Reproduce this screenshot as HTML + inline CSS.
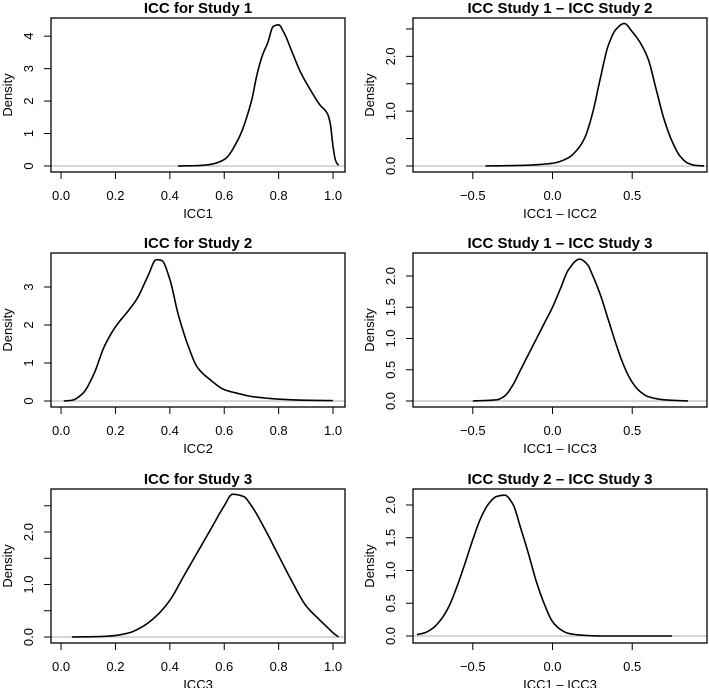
<!DOCTYPE html>
<html><head><meta charset="utf-8"><style>
html,body{margin:0;padding:0;background:#fff}
svg{display:block;font-family:"Liberation Sans",Arial,sans-serif}
</style></head><body>
<svg id="chart" width="709" height="688" viewBox="0 0 709 688" xmlns="http://www.w3.org/2000/svg"></svg>
<script>
// Data arrays
const p1x=[0.43,0.5,0.55,0.6,0.65,0.7,0.72,0.74,0.76,0.78,0.8,0.82,0.85,0.88,0.92,0.95,0.98,0.99,1.0,1.01,1.02];
const p1y=[0,0.01,0.05,0.2,0.8,2.0,2.8,3.4,3.8,4.3,4.35,4.1,3.5,2.9,2.3,1.9,1.6,1.3,0.6,0.15,0.02];
const p2x=[-0.42,-0.2,0,0.1,0.15,0.2,0.25,0.3,0.35,0.4,0.45,0.5,0.55,0.6,0.65,0.7,0.75,0.8,0.85,0.9,0.95];
const p2y=[0,0.01,0.05,0.15,0.28,0.5,0.95,1.6,2.2,2.5,2.6,2.45,2.25,1.95,1.4,0.85,0.45,0.18,0.05,0.01,0];
const p3x=[0.01,0.04,0.08,0.12,0.16,0.2,0.25,0.28,0.32,0.35,0.37,0.4,0.43,0.47,0.5,0.55,0.6,0.65,0.7,0.8,0.9,1.0];
const p3y=[0,0.02,0.2,0.7,1.45,1.95,2.4,2.7,3.3,3.72,3.7,3.2,2.3,1.4,0.9,0.55,0.3,0.2,0.12,0.05,0.02,0.01];
const p4x=[-0.5,-0.35,-0.3,-0.25,-0.2,-0.15,-0.1,-0.05,0,0.05,0.1,0.17,0.22,0.25,0.3,0.35,0.4,0.45,0.5,0.55,0.6,0.7,0.85];
const p4y=[0,0.02,0.08,0.25,0.5,0.75,1.0,1.25,1.5,1.8,2.1,2.27,2.18,2.02,1.7,1.3,0.9,0.55,0.3,0.15,0.07,0.02,0];
const p5x=[0.04,0.15,0.2,0.25,0.3,0.35,0.4,0.45,0.5,0.55,0.6,0.63,0.67,0.7,0.75,0.8,0.85,0.9,0.95,0.98,1.0,1.02];
const p5y=[0,0.01,0.03,0.08,0.2,0.4,0.7,1.15,1.6,2.05,2.5,2.72,2.68,2.5,2.05,1.55,1.05,0.6,0.33,0.18,0.08,0];
const p6x=[-0.85,-0.8,-0.75,-0.7,-0.65,-0.6,-0.55,-0.5,-0.45,-0.4,-0.35,-0.3,-0.25,-0.2,-0.15,-0.1,-0.05,0,0.05,0.1,0.2,0.3,0.75];
const p6y=[0.02,0.05,0.12,0.25,0.45,0.75,1.1,1.47,1.8,2.02,2.13,2.15,2.02,1.65,1.25,0.82,0.48,0.22,0.1,0.04,0.01,0,0];
const xTicksA=[0,0.2,0.4,0.6,0.8,1.0];
const xLabelsA=["0.0","0.2","0.4","0.6","0.8","1.0"];
const xTicksB=[-0.5,0,0.5];
const xLabelsB=["\u22120.5","0.0","0.5"];

const panels=[
 {name:"icc-study-1",title:"ICC for Study 1",xlab:"ICC1",L:51,T:18,xl:[-0.037,1.044],yl:[-0.186,4.56],xs:p1x,ys:p1y,xt:xTicksA,xtl:xLabelsA,yt:[0,1,2,3,4],ytl:["0","1","2","3","4"]},
 {name:"icc1-minus-icc2",title:"ICC Study 1 \u2013 ICC Study 2",xlab:"ICC1 \u2013 ICC2",L:413,T:18,xl:[-0.875,0.969],yl:[-0.11,2.70],xs:p2x,ys:p2y,xt:xTicksB,xtl:xLabelsB,yt:[0,0.5,1,1.5,2,2.5],ytl:["0.0","","1.0","","2.0",""]},
 {name:"icc-study-2",title:"ICC for Study 2",xlab:"ICC2",L:51,T:253,xl:[-0.037,1.044],yl:[-0.158,3.895],xs:p3x,ys:p3y,xt:xTicksA,xtl:xLabelsA,yt:[0,1,2,3],ytl:["0","1","2","3"]},
 {name:"icc1-minus-icc3",title:"ICC Study 1 \u2013 ICC Study 3",xlab:"ICC1 \u2013 ICC3",L:413,T:253,xl:[-0.875,0.969],yl:[-0.096,2.368],xs:p4x,ys:p4y,xt:xTicksB,xtl:xLabelsB,yt:[0,0.5,1,1.5,2],ytl:["0.0","0.5","1.0","1.5","2.0"]},
 {name:"icc-study-3",title:"ICC for Study 3",xlab:"ICC3",L:51,T:489,xl:[-0.037,1.044],yl:[-0.114,2.82],xs:p5x,ys:p5y,xt:xTicksA,xtl:xLabelsA,yt:[0,0.5,1,1.5,2,2.5],ytl:["0.0","","1.0","","2.0",""]},
 {name:"icc2-minus-icc3",title:"ICC Study 2 \u2013 ICC Study 3",xlab:"ICC1 \u2013 ICC3",L:413,T:489,xl:[-0.875,0.969],yl:[-0.107,2.244],xs:p6x,ys:p6y,xt:xTicksB,xtl:xLabelsB,yt:[0,0.5,1,1.5,2],ytl:["0.0","0.5","1.0","1.5","2.0"]}
];
const W=294,H=154,NS="http://www.w3.org/2000/svg";
const svg=document.getElementById('chart');
function mk(tag,attrs,parent,text){const e=document.createElementNS(NS,tag);for(const k in attrs)e.setAttribute(k,attrs[k]);if(text!==undefined)e.textContent=text;parent.appendChild(e);return e;}
// monotone cubic (Fritsch-Carlson) interpolation
function monotone(xs,ys){
 const n=xs.length,d=[],m=[];
 for(let i=0;i<n-1;i++)d.push((ys[i+1]-ys[i])/(xs[i+1]-xs[i]));
 m[0]=d[0];m[n-1]=d[n-2];
 for(let i=1;i<n-1;i++){if(d[i-1]*d[i]<=0)m[i]=0;else{const w1=2*(xs[i+1]-xs[i])+(xs[i]-xs[i-1]),w2=(xs[i+1]-xs[i])+2*(xs[i]-xs[i-1]);m[i]=(w1+w2)/(w1/d[i-1]+w2/d[i]);}}
 return x=>{let i=0;while(i<n-2&&x>xs[i+1])i++;const h=xs[i+1]-xs[i],t=(x-xs[i])/h,t2=t*t,t3=t2*t;
  return (2*t3-3*t2+1)*ys[i]+(t3-2*t2+t)*h*m[i]+(-2*t3+3*t2)*ys[i+1]+(t3-t2)*h*m[i+1];};
}
panels.forEach(p=>{
 const g=mk('g',{},svg);
 
 
 const sx=v=>p.L+(v-p.xl[0])/(p.xl[1]-p.xl[0])*W;
 const sy=v=>p.T+H-(v-p.yl[0])/(p.yl[1]-p.yl[0])*H;
 const t=mk('text',{x:p.L+W/2,y:p.T-5,'text-anchor':'middle','font-size':'15','font-weight':'bold'},g,p.title);
 
 
 const z=mk('line',{x1:p.L,x2:p.L+W,y1:sy(0),y2:sy(0),stroke:'#bdbdbd','stroke-width':1.3},g);
 
 
 const f=monotone(p.xs,p.ys);
 const x0=p.xs[0],x1=p.xs[p.xs.length-1],N=200;
 let pts=[];
 for(let k=0;k<=N;k++){const x=x0+(x1-x0)*k/N;pts.push(sx(x).toFixed(2)+','+sy(Math.max(0,f(x))).toFixed(2));}
 const c=mk('polyline',{points:pts.join(' '),fill:'none',stroke:'#000','stroke-width':1.6,'stroke-linejoin':'round'},g);
 
 
 const b=mk('rect',{x:p.L,y:p.T,width:W,height:H,fill:'none',stroke:'#000','stroke-width':1.3},g);
 
 
 const xa=mk('g',{},g);
 
 
 mk('line',{x1:sx(p.xt[0]),x2:sx(p.xt[p.xt.length-1]),y1:p.T+H,y2:p.T+H,stroke:'#000','stroke-width':1},xa);
 p.xt.forEach((v,i)=>{
  mk('line',{x1:sx(v),x2:sx(v),y1:p.T+H,y2:p.T+H+7,stroke:'#000','stroke-width':1},xa);
  mk('text',{x:sx(v),y:p.T+H+28,'text-anchor':'middle','font-size':'13'},xa,p.xtl[i]);
 });
 const xt=mk('text',{x:p.L+W/2,y:p.T+H+46,'text-anchor':'middle','font-size':'13'},g,p.xlab);
 
 
 const ya=mk('g',{},g);
 
 
 p.yt.forEach((v,i)=>{
  mk('line',{x1:p.L,x2:p.L-7,y1:sy(v),y2:sy(v),stroke:'#000','stroke-width':1},ya);
  if(p.ytl[i]) mk('text',{x:p.L-18,y:sy(v),'text-anchor':'middle','font-size':'13',transform:'rotate(-90 '+(p.L-18)+' '+sy(v)+')'},ya,p.ytl[i]);
 });
 const yx=p.L-39,yy=p.T+H/2;
 const yt=mk('text',{x:yx,y:yy,'text-anchor':'middle','font-size':'13',transform:'rotate(-90 '+yx+' '+yy+')'},g,'Density');
 
 
});
</script>
</body></html>
